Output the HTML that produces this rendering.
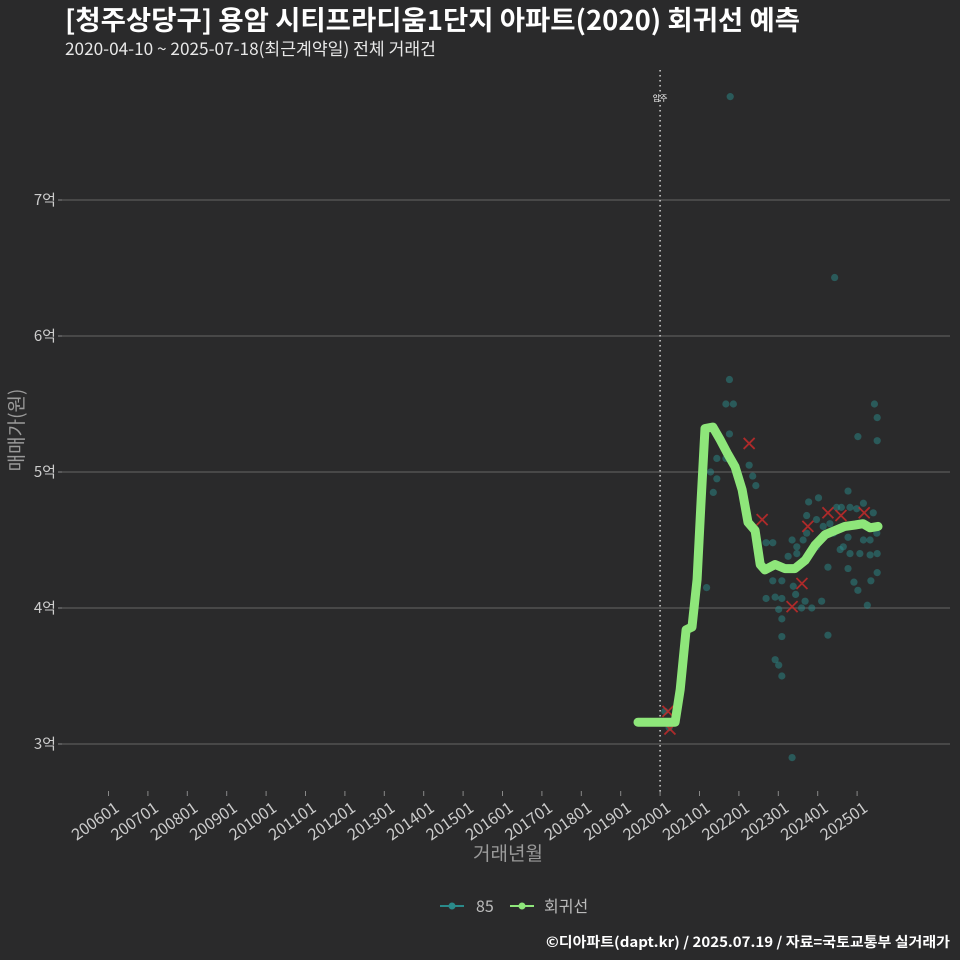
<!DOCTYPE html>
<html><head><meta charset="utf-8"><style>
html,body{margin:0;padding:0;background:#2a2a2b;}
svg{display:block;font-family:"Noto Sans CJK KR","Liberation Sans",sans-serif;}
</style></head><body>
<svg id="chart" width="960" height="960" viewBox="0 0 960 960">
<rect width="960" height="960" fill="#2a2a2b"/>
<text x="65" y="30" font-size="27" font-weight="bold" fill="#ffffff" textLength="735" lengthAdjust="spacingAndGlyphs">[청주상당구] 용암 시티프라디움1단지 아파트(2020) 회귀선 예측</text>
<text x="65" y="55" font-size="17" fill="#e8e8e8" textLength="371" lengthAdjust="spacingAndGlyphs">2020-04-10 ~ 2025-07-18(최근계약일) 전체 거래건</text>
<g id="grid"></g>
<g id="yaxis"></g>
<g id="xaxis"></g>
<g id="marks"></g>
<text x="508" y="860" font-size="19" fill="#9a9a9a" text-anchor="middle">거래년월</text>
<text transform="translate(23,430) rotate(-90)" font-size="19" fill="#9a9a9a" text-anchor="middle">매매가(원)</text>
<g>
  <g>
    <line x1="440" y1="906" x2="464" y2="906" stroke="#2a8a8a" stroke-width="2"/>
    <circle cx="452" cy="906" r="3.5" fill="#2a8a8a"/>
    <text x="476" y="912" font-size="16" fill="#bbbbbb">85</text>
  </g>
  <g>
    <line x1="510" y1="906" x2="534" y2="906" stroke="#8ee67a" stroke-width="2"/>
    <circle cx="522" cy="906" r="3.5" fill="#8ee67a"/>
    <text x="544" y="912" font-size="16" fill="#bbbbbb">회귀선</text>
  </g>
</g>
<text x="950" y="947" font-size="14" font-weight="bold" fill="#ffffff" text-anchor="end" textLength="404" lengthAdjust="spacingAndGlyphs">©디아파트(dapt.kr) / 2025.07.19 / 자료=국토교통부 실거래가</text>
</svg>
<script>
// tick data
const yTicks = [3, 4, 5, 6, 7];
const yTickLabels = ["3억", "4억", "5억", "6억", "7억"];
const xTickYears = [2006,2007,2008,2009,2010,2011,2012,2013,2014,2015,2016,2017,2018,2019,2020,2021,2022,2023,2024,2025];
const xTickLabels = ["200601","200701","200801","200901","201001","201101","201201","201301","201401","201501","201601","201701","201801","201901","202001","202101","202201","202301","202401","202501"];
const moveInYear = 2020.0;
const moveInLabel = "입주";
// scatter trades (decimal year, 억)
const tradeT = [2021.76,2021.67,2021.86,2021.76,2021.44,2021.67,2021.28,2021.44,2021.35,2022.26,2022.35,2022.43,2021.18,2022.86,2022.69,2022.86,2023.09,2022.69,2022.92,2023.09,2023.01,2023.09,2023.09,2022.92,2023.01,2023.09,2023.35,2023.35,2023.47,2023.63,2023.72,2023.77,2024.02,2023.72,2023.97,2024.14,2024.31,2024.48,2024.77,2024.60,2024.82,2024.99,2024.77,2024.65,2024.57,2024.82,2025.07,2025.16,2025.33,2025.50,2025.41,2025.51,2025.33,2024.77,2024.26,2024.10,2023.85,2023.68,2023.59,2023.44,2023.38,2024.92,2025.02,2025.26,2025.35,2025.51,2025.02,2025.44,2025.51,2025.51,2024.26,2023.47,2023.25,2023.63,2023.97,2024.40,2025.16,2021.78,2024.43,2020.23,2020.12];
const tradeV = [5.68,5.50,5.50,5.28,5.10,5.10,5.00,4.95,4.85,5.05,4.97,4.90,4.15,4.48,4.48,4.20,4.20,4.07,4.08,4.07,3.99,3.92,3.79,3.62,3.58,3.50,2.90,4.50,4.45,4.50,4.55,4.78,4.81,4.68,4.65,4.60,4.62,4.74,4.86,4.74,4.74,4.73,4.52,4.45,4.43,4.40,4.40,4.50,4.50,4.55,4.70,4.40,4.39,4.29,4.30,4.05,4.00,4.05,4.00,4.10,4.16,4.19,4.13,4.02,4.20,4.26,5.26,5.50,5.40,5.23,3.80,4.40,4.38,4.35,4.45,4.55,4.77,7.76,6.43,3.12,3.24];
// outlier / excluded trades (red x)
const xMarkT = [2020.20,2020.25,2022.26,2022.59,2023.60,2023.35,2023.75,2024.26,2024.59,2025.18];
const xMarkV = [3.24,3.11,5.21,4.65,4.18,4.01,4.60,4.70,4.68,4.70];
// regression line
const lineT = [2019.44,2020.38,2020.51,2020.66,2020.81,2020.94,2021.04,2021.14,2021.34,2021.52,2021.72,2021.90,2022.08,2022.23,2022.41,2022.54,2022.66,2022.92,2023.17,2023.42,2023.68,2023.93,2024.19,2024.44,2024.69,2024.95,2025.15,2025.33,2025.53];
const lineV = [3.16,3.16,3.40,3.84,3.86,4.21,4.79,5.32,5.33,5.24,5.13,5.04,4.87,4.63,4.57,4.32,4.28,4.32,4.29,4.29,4.35,4.46,4.54,4.57,4.60,4.61,4.62,4.59,4.60];

const NS = "http://www.w3.org/2000/svg";
const xScale = t => 108.5 + (t - 2006) * 39.4;
const yScale = v => 744 - (v - 3) * 136;
function mk(tag, attrs, parent){const e=document.createElementNS(NS,tag);for(const k in attrs)e.setAttribute(k,attrs[k]);parent.appendChild(e);return e;}
const grid=document.getElementById('grid'), ya=document.getElementById('yaxis'), xa=document.getElementById('xaxis'), marks=document.getElementById('marks');

yTicks.forEach((v,i)=>{
  const y=yScale(v);
  const g=mk('line',{x1:62,x2:950,y1:y,y2:y,stroke:'#5a5a5a','stroke-width':1.2},grid);
  
  
  const tk=mk('line',{x1:58,x2:62,y1:y,y2:y,stroke:'#888','stroke-width':1},ya);
  
  
  const t=mk('text',{x:56,y:y+5,'font-size':15,fill:'#cccccc','text-anchor':'end'},ya);
  t.textContent=yTickLabels[i];
  
  
});
xTickYears.forEach((yr,i)=>{
  const x=xScale(yr);
  const tk=mk('line',{x1:x,x2:x,y1:791,y2:796,stroke:'#888','stroke-width':1},xa);
  
  
  const t=mk('text',{transform:`translate(${x+3},${798}) rotate(-35)`,'font-size':16,fill:'#cccccc','text-anchor':'end','dominant-baseline':'hanging'},xa);
  t.textContent=xTickLabels[i];
  
  
});
// move-in line
const mx=xScale(moveInYear);
const vl=mk('line',{x1:mx,x2:mx,y1:70,y2:792,stroke:'#cfcfcf','stroke-width':1.5,'stroke-dasharray':'1.5,3.5'},marks);


const ml=mk('text',{x:mx,y:101,'font-size':8,fill:'#ffffff','text-anchor':'middle'},marks);
ml.textContent=moveInLabel;


// scatter
tradeT.forEach((t,i)=>{
  const c=mk('circle',{cx:xScale(t),cy:yScale(tradeV[i]),r:3.6,fill:'#2a8a8a','fill-opacity':0.5},marks);
  
  
});
// red x
xMarkT.forEach((t,i)=>{
  const x=xScale(t), y=yScale(xMarkV[i]), s=5.5;
  const p=mk('path',{d:`M${x-s},${y-s}L${x+s},${y+s}M${x-s},${y+s}L${x+s},${y-s}`,stroke:'#c42a2a','stroke-width':1.8,'stroke-opacity':0.85},marks);
  
  
});
// regression line
const d=lineT.map((t,i)=>(i?'L':'M')+xScale(t).toFixed(1)+','+yScale(lineV[i]).toFixed(1)).join('');
const rl=mk('path',{d:d,fill:'none',stroke:'#8ee67a','stroke-width':9,'stroke-linejoin':'round','stroke-linecap':'round'},marks);


</script>
</body></html>
